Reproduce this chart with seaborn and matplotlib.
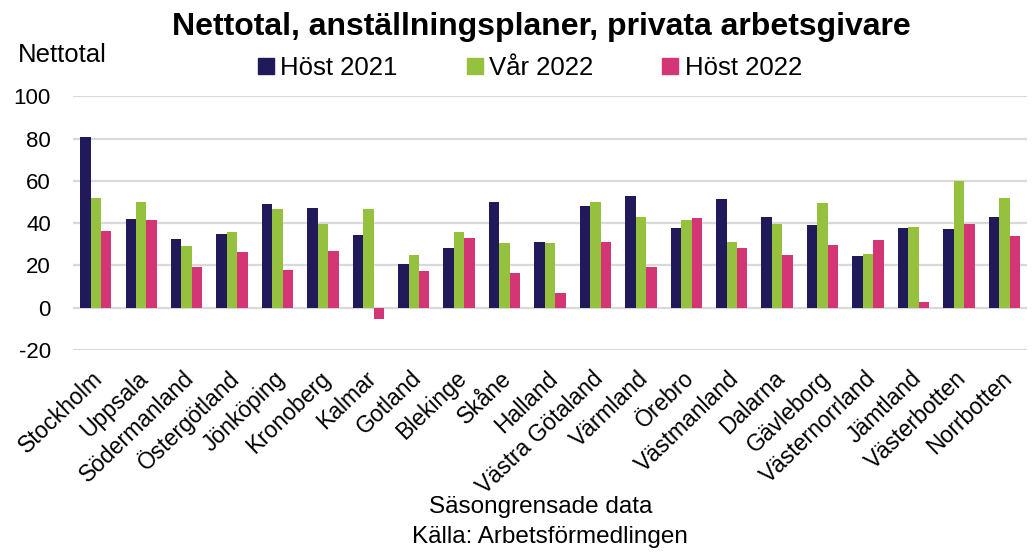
import matplotlib
matplotlib.use("Agg")
import matplotlib.pyplot as plt
import matplotlib.transforms as mtransforms
from matplotlib.lines import Line2D
import seaborn as sns
import pandas as pd

regions = ["Stockholm", "Uppsala", "Södermanland", "Östergötland", "Jönköping",
           "Kronoberg", "Kalmar", "Gotland", "Blekinge", "Skåne", "Halland",
           "Västra Götaland", "Värmland", "Örebro", "Västmanland", "Dalarna",
           "Gävleborg", "Västernorrland", "Jämtland", "Västerbotten", "Norrbotten"]
host_2021 = [80.5, 41.9, 32.3, 35.1, 49.1, 47.2, 34.2, 20.6, 28.3, 50.1, 31.2,
             47.9, 52.9, 37.8, 51.2, 43.1, 39.1, 24.3, 37.8, 37.3, 42.8]
var_2022 = [51.8, 50.2, 29.0, 35.7, 46.8, 39.7, 46.5, 25.0, 35.7, 30.4, 30.4,
            49.8, 42.7, 41.6, 31.2, 39.7, 49.3, 25.4, 38.1, 59.7, 51.7]
host_2022 = [36.5, 41.3, 19.2, 26.3, 17.8, 26.6, -5.2, 17.5, 33.1, 16.2, 7.2,
             30.9, 19.1, 42.4, 28.3, 25.0, 29.6, 32.1, 2.5, 39.5, 33.9]
series = ["Höst 2021", "Vår 2022", "Höst 2022"]
colors = ["#201A5B", "#96C13E", "#D43574"]

df = pd.DataFrame({
    "Län": regions * 3,
    "Period": [series[0]] * len(regions) + [series[1]] * len(regions) + [series[2]] * len(regions),
    "Nettotal": host_2021 + var_2022 + host_2022,
})

sns.set_theme(style="white")
plt.rcParams["font.family"] = ["Liberation Sans", "DejaVu Sans"]
plt.rcParams["axes.unicode_minus"] = False
plt.rcParams["text.color"] = "black"

fig = plt.figure(figsize=(10.33, 5.53), dpi=100)
ax = fig.add_axes([0.0707, 0.367, 0.9235, 0.459])

sns.barplot(data=df, x="Län", y="Nettotal", hue="Period", hue_order=series,
            palette=colors, width=0.69, saturation=1, ax=ax, zorder=3,
            edgecolor="none", linewidth=0)
if ax.get_legend() is not None:
    ax.get_legend().remove()

ax.set_ylim(-20, 100)
ax.set_yticks(range(-20, 101, 20))
ax.set_xlim(-0.5, len(regions) - 0.5)
ax.grid(axis="y", color="#D9D9D9", linewidth=1.6, zorder=0)
ax.grid(axis="x", visible=False)
for s in ax.spines.values():
    s.set_visible(False)
ax.tick_params(axis="y", length=0, pad=16, labelsize=16, labelcolor="black")
ax.tick_params(axis="x", length=0, pad=0, labelsize=16.5, labelcolor="black")
ax.set_xlabel("")
ax.set_ylabel("")

offset = mtransforms.ScaledTranslation(0.04, -0.25, fig.dpi_scale_trans)
for lab in ax.get_xticklabels():
    lab.set_rotation(44)
    lab.set_ha("right")
    lab.set_va("center")
    lab.set_rotation_mode("anchor")
    lab.set_transform(lab.get_transform() + offset)

fig.text(0.524, 0.951, "Nettotal, anställningsplaner, privata arbetsgivare",
         ha="center", va="center", fontsize=23, fontweight="bold", color="black")
fig.text(0.017, 0.900, "Nettotal", ha="left", va="center", fontsize=18.5, color="black")

handles = [Line2D([0], [0], marker="s", linestyle="none", markersize=11,
                  markerfacecolor=c, markeredgecolor=c) for c in colors]
fig.legend(handles, series, loc="center", bbox_to_anchor=(0.512, 0.877), ncol=3,
           frameon=False, fontsize=18.5, handletextpad=0.15, columnspacing=2.6,
           handlelength=0.8, labelcolor="black")

fig.text(0.523, 0.083, "Säsongrensade data", ha="center", va="center", fontsize=17.5, color="black")
fig.text(0.532, 0.029, "Källa: Arbetsförmedlingen", ha="center", va="center", fontsize=17.5, color="black")

fig.savefig("out.png", dpi=100)
